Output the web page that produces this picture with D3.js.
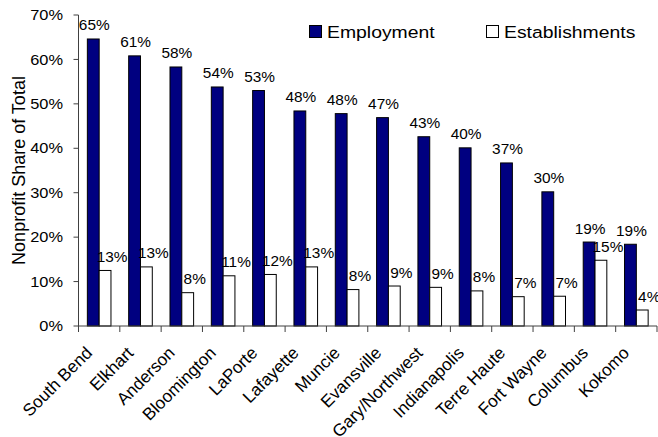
<!DOCTYPE html>
<html>
<head>
<meta charset="utf-8">
<script src="https://cdn.jsdelivr.net/npm/d3@7"></script>
<style>
  html, body { margin: 0; padding: 0; background: #fff; }
  svg { display: block; }
  text { font-family: "Liberation Sans", Arial, sans-serif; fill: #000; }
</style>
</head>
<body>
<div id="chart"></div>
<script>
const categories = ["South Bend", "Elkhart", "Anderson", "Bloomington", "LaPorte", "Lafayette", "Muncie",
  "Evansville", "Gary/Northwest", "Indianapolis", "Terre Haute", "Fort Wayne", "Columbus", "Kokomo"];
const employment = [64.6, 60.8, 58.3, 53.8, 53.0, 48.4, 47.8, 46.9, 42.6, 40.1, 36.7, 30.2, 18.9, 18.4];
const establishments = [12.5, 13.3, 7.5, 11.3, 11.6, 13.3, 8.2, 9.0, 8.7, 7.9, 6.6, 6.7, 14.8, 3.6];
const employmentLabels = ["65%", "61%", "58%", "54%", "53%", "48%", "48%", "47%", "43%", "40%", "37%", "30%", "19%", "19%"];
const establishmentLabels = ["13%", "13%", "8%", "11%", "12%", "13%", "8%", "9%", "9%", "8%", "7%", "7%", "15%", "4%"];
const yTicks = [0, 10, 20, 30, 40, 50, 60, 70];
const seriesNames = ["Employment", "Establishments"];
const yTitle = "Nonprofit Share of Total";

(function () {
const W = 658, H = 437;
const pLeft = 78.5, pRight = 657, pTop = 15, pBottom = 326;

const svg = d3.select("#chart").append("svg").attr("width", W).attr("height", H);

const x0 = d3.scaleBand().domain(categories).range([pLeft, pRight]).paddingInner(0).paddingOuter(0);
const x1 = d3.scaleBand().domain(["emp", "est"]).range([0, x0.bandwidth()]).paddingInner(0).paddingOuter(0.75);
const y = d3.scaleLinear().domain([0, 70]).range([pBottom, pTop]);

const navy = "#000080";

// bars
const g = svg.append("g");
categories.forEach((c, i) => {
  g.append("rect")
    .attr("x", x0(c) + x1("emp")).attr("y", y(employment[i]))
    .attr("width", x1.bandwidth()).attr("height", y(0) - y(employment[i]))
    .attr("fill", navy).attr("stroke", "#000").attr("stroke-width", 1);
  g.append("rect")
    .attr("x", x0(c) + x1("est")).attr("y", y(establishments[i]))
    .attr("width", x1.bandwidth()).attr("height", y(0) - y(establishments[i]))
    .attr("fill", "#fff").attr("stroke", "#000").attr("stroke-width", 1);
});

function stext(parent, tx, ty, str, size, anchor, sx) {
  return parent.append("text")
    .attr("transform", `translate(${tx},${ty}) scale(${sx},1)`)
    .attr("text-anchor", anchor)
    .style("font-size", size + "px")
    .text(str);
}

// data labels
categories.forEach((c, i) => {
  stext(svg, x0(c) + x1("emp") + x1.bandwidth() / 2 + 1, y(employment[i]) - 8.5, employmentLabels[i], 14, "middle", 1.1);
  stext(svg, x0(c) + x1("est") + x1.bandwidth() / 2 + 7, y(establishments[i]) - 8.5, establishmentLabels[i], 14, "middle", 1.1);
});

// y axis
const axisColor = "#404040";
svg.append("line").attr("x1", pLeft).attr("x2", pLeft).attr("y1", pTop).attr("y2", pBottom)
  .attr("stroke", axisColor).attr("stroke-width", 1);
yTicks.forEach(t => {
  svg.append("line").attr("x1", pLeft - 5).attr("x2", pLeft).attr("y1", y(t)).attr("y2", y(t))
    .attr("stroke", axisColor);
  stext(svg, pLeft - 15.5, y(t) + 5.2, t + "%", 14.5, "end", 1.13);
});

// x axis
svg.append("line").attr("x1", pLeft).attr("x2", pRight).attr("y1", pBottom).attr("y2", pBottom)
  .attr("stroke", axisColor);
const bounds = categories.map(c => x0(c)).concat([x0.range()[1]]);
bounds.forEach(b => {
  svg.append("line").attr("x1", b).attr("x2", b).attr("y1", pBottom).attr("y2", pBottom + 6)
    .attr("stroke", axisColor);
});
categories.forEach(c => {
  const cx = x0(c) + x0.bandwidth() / 2 - 6;
  svg.append("text")
    .attr("transform", `translate(${cx},${pBottom + 28}) rotate(-45)`)
    .attr("text-anchor", "end")
    .style("font-size", "17.2px")
    .text(c);
});

// y title
svg.append("text")
  .attr("transform", `translate(25,${(pTop + pBottom) / 2}) rotate(-90)`)
  .attr("text-anchor", "middle")
  .style("font-size", "18px")
  .text(yTitle);

// legend
const leg = [{ x: 309, fill: navy, name: seriesNames[0] }, { x: 486, fill: "#fff", name: seriesNames[1] }];
leg.forEach(l => {
  svg.append("rect").attr("x", l.x + 0.5).attr("y", 25.5).attr("width", 12).attr("height", 12)
    .attr("fill", l.fill).attr("stroke", "#000");
  stext(svg, l.x + 18, 37.5, l.name, 17, "start", 1.14);
});
})();
</script>
</body>
</html>
